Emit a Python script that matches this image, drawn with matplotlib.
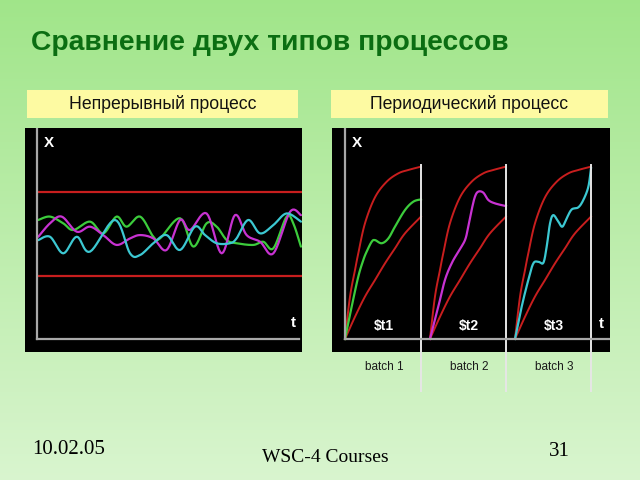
import numpy as np
import matplotlib
matplotlib.use("Agg")
import matplotlib.pyplot as plt
from matplotlib.patches import Rectangle

plt.rcParams["font.family"] = ["Liberation Sans", "DejaVu Sans"]

# === Data ===
# continuous process: time t (0..10), measured X
cont_t_green = [0.05, 0.49, 0.99, 1.37, 2.0, 2.5, 3.0, 3.38, 3.89, 4.39, 4.64, 5.40, 5.90, 6.40, 6.78, 7.16, 7.53, 8.16, 8.54, 8.92, 9.42, 9.67, 9.96]
cont_x_green = [5.67, 5.83, 5.51, 5.19, 5.59, 5.03, 5.83, 5.35, 5.83, 4.87, 4.79, 5.75, 4.40, 5.51, 5.35, 4.71, 4.56, 4.48, 4.63, 4.32, 5.83, 5.51, 4.40]
cont_t_mag = [0.05, 0.49, 0.93, 1.50, 2.0, 2.5, 3.0, 3.51, 3.89, 4.39, 4.89, 5.40, 5.77, 6.40, 6.97, 7.47, 7.91, 8.42, 8.92, 9.55, 9.96]
cont_x_mag = [4.87, 5.51, 5.83, 5.11, 5.35, 4.95, 4.48, 4.79, 4.95, 4.79, 4.24, 5.67, 5.19, 5.98, 4.08, 5.90, 4.95, 4.63, 4.08, 6.06, 5.90]
cont_t_cyan = [0.05, 0.49, 0.99, 1.50, 2.0, 2.94, 3.51, 3.89, 4.39, 4.89, 5.40, 5.96, 6.34, 6.78, 7.28, 7.53, 7.97, 8.42, 8.92, 9.42, 9.96]
cont_x_cyan = [4.71, 4.87, 4.08, 4.87, 4.16, 5.67, 4.08, 4.00, 4.56, 4.95, 4.24, 5.35, 4.95, 4.56, 4.56, 4.79, 5.67, 5.03, 5.43, 5.98, 5.59]
cont_limits = [3.0, 7.0]

# periodic process: batch-local time tau (0..1), envelope and batch trajectories
env_tau_upper = [0.0, 0.066, 0.132, 0.175, 0.263, 0.395, 0.548, 0.702, 0.833, 1.0]
env_x_upper = [0.0, 2.02, 3.29, 4.08, 5.51, 6.75, 7.49, 7.89, 8.05, 8.21]
env_tau_lower = [0.0, 0.132, 0.263, 0.395, 0.526, 0.658, 0.789, 1.0]
env_x_lower = [0.0, 1.06, 2.02, 2.81, 3.60, 4.32, 5.03, 5.83]

batch_tau = [
    [0.0, 0.088, 0.175, 0.241, 0.285, 0.351, 0.395, 0.482, 0.570, 0.658, 0.789, 0.899, 1.0],
    [0.0, 0.110, 0.197, 0.285, 0.373, 0.461, 0.504, 0.548, 0.592, 0.636, 0.702, 0.768, 0.855, 1.0],
    [0.0, 0.088, 0.175, 0.241, 0.307, 0.373, 0.417, 0.461, 0.504, 0.570, 0.623, 0.680, 0.746, 0.833, 0.899, 0.965, 1.0],
]
batch_x = [
    [0.0, 1.54, 2.97, 3.76, 4.16, 4.63, 4.71, 4.56, 4.79, 5.35, 6.14, 6.54, 6.65],
    [0.0, 1.54, 2.81, 3.60, 4.16, 4.71, 5.35, 6.14, 6.78, 7.02, 6.97, 6.62, 6.46, 6.33],
    [0.0, 1.54, 2.81, 3.60, 3.68, 3.63, 4.40, 5.51, 5.90, 5.59, 5.35, 5.75, 6.17, 6.27, 6.62, 7.25, 8.13],
]
batch_start = [0.0, 1.118, 2.237]
batch_colors = ["#3ccc3c", "#c832d2", "#3cc8d2"]
batch_tags = ["$t1", "$t2", "$t3"]
batch_names = ["batch 1", "batch 2", "batch 3"]

RED = "#c81e1e"
AXIS_GRAY = "#a8a8a8"
W, H = 640, 480


def smooth(x, y, n=10):
    """Catmull-Rom curve through the read points (only for drawing)."""
    p = np.column_stack([x, y]).astype(float)
    p = np.vstack([p[0], p, p[-1]])
    out = []
    s = np.linspace(0, 1, n, endpoint=False)[:, None]
    for i in range(1, len(p) - 2):
        p0, p1, p2, p3 = p[i - 1], p[i], p[i + 1], p[i + 2]
        seg = 0.5 * ((2 * p1) + (-p0 + p2) * s + (2 * p0 - 5 * p1 + 4 * p2 - p3) * s ** 2
                     + (-p0 + 3 * p1 - 3 * p2 + p3) * s ** 3)
        out.append(seg)
    out.append(p[-2][None, :])
    out = np.vstack(out)
    return out[:, 0], out[:, 1]


def box(px0, py0, px1, py1):
    """pixel box -> figure fraction [left, bottom, width, height]"""
    return [px0 / W, 1 - py1 / H, (px1 - px0) / W, (py1 - py0) / H]


fig = plt.figure(figsize=(6.4, 4.8), dpi=100)

# background gradient
bg = fig.add_axes([0, 0, 1, 1])
grad = np.linspace(0, 1, 256)[:, None]
top = np.array([0.63, 0.90, 0.54])
bot = np.array([0.85, 0.96, 0.81])
img = top[None, None, :] * (1 - grad[:, :, None]) + bot[None, None, :] * grad[:, :, None]
bg.imshow(img, aspect="auto", extent=[0, 1, 0, 1])
bg.set_axis_off()

fig.text(31 / W, 1 - 43 / H, "Сравнение двух типов процессов", fontsize=20.3, fontweight="bold",
         color="#0b6e12", va="center", ha="left")

# yellow header boxes
for (x0, x1, label) in [(27, 298, "Непрерывный процесс"), (331, 608, "Периодический процесс")]:
    fig.patches.append(Rectangle((x0 / W, 1 - 118 / H), (x1 - x0) / W, 28 / H,
                                 transform=fig.transFigure, facecolor="#fdfaa2", edgecolor="none"))
    fig.text((x0 + x1) / 2 / W, 1 - 104 / H, label, fontsize=12.7,
             color="#111111", ha="center", va="center")

YLIM = (-0.62, 10.05)

# --- continuous process panel ---
ax1 = fig.add_axes(box(25, 128, 302, 352))
ax1.set_facecolor("black")
ax1.set_xlim(-0.453, 10.0)
ax1.set_ylim(*YLIM)
for lim in cont_limits:
    ax1.plot([0.04, 10.0], [lim, lim], color=RED, lw=1.6)
for t, x, c in [(cont_t_green, cont_x_green, batch_colors[0]),
                (cont_t_mag, cont_x_mag, batch_colors[1]),
                (cont_t_cyan, cont_x_cyan, batch_colors[2])]:
    sx, sy = smooth(t, x)
    ax1.plot(sx, sy, color=c, lw=1.6, solid_capstyle="round")
ax1.plot([0, 0], [0, YLIM[1]], color=AXIS_GRAY, lw=1.6)
ax1.plot([0, 9.9], [0, 0], color=AXIS_GRAY, lw=1.6)
ax1.text(0.45, 9.33, "X", color="white", fontsize=11, fontweight="bold", ha="center", va="center")
ax1.text(9.66, 0.76, "t", color="white", fontsize=11, fontweight="bold", ha="center", va="center")
ax1.set_xticks([]); ax1.set_yticks([])
for s in ax1.spines.values():
    s.set_visible(False)

# --- periodic process panel ---
ax2 = fig.add_axes(box(332, 128, 610, 352))
ax2.set_facecolor("black")
ax2.set_xlim(-0.171, 3.487)
ax2.set_ylim(*YLIM)
ux, uy = smooth(env_tau_upper, env_x_upper)
lx, ly = smooth(env_tau_lower, env_x_lower)
for k, t0 in enumerate(batch_start):
    ax2.plot(ux + t0, uy, color=RED, lw=1.4)
    ax2.plot(lx + t0, ly, color=RED, lw=1.4)
    bx, by = smooth(batch_tau[k], batch_x[k])
    ax2.plot(bx + t0, by, color=batch_colors[k], lw=1.6)
    ax2.text(t0 + 0.51, 0.6, batch_tags[k], color="white", fontsize=10, fontweight="bold",
             ha="center", va="center")
    ax2.plot([t0 + 1.0, t0 + 1.0], [-2.5, 8.29], color="#e6e6e6", lw=1.4, clip_on=False)
    ax2.text(t0 + 0.52, -1.33, batch_names[k], color="#1a1a1a", fontsize=8.5,
             ha="center", va="center", clip_on=False)
ax2.plot([0, 0], [0, YLIM[1]], color=AXIS_GRAY, lw=1.6)
ax2.plot([0, 3.487], [0, 0], color=AXIS_GRAY, lw=1.6)
ax2.text(0.154, 9.32, "X", color="white", fontsize=11, fontweight="bold", ha="center", va="center")
ax2.text(3.38, 0.71, "t", color="white", fontsize=11, fontweight="bold", ha="center", va="center")
ax2.set_xticks([]); ax2.set_yticks([])
for s in ax2.spines.values():
    s.set_visible(False)

# footer
fig.text(32 / W, 1 - 450 / H, "10.02.05", family="Liberation Serif", fontsize=15, va="center", ha="left")
fig.text(325 / W, 1 - 458 / H, "WSC-4 Courses", family="Liberation Serif", fontsize=14, va="center", ha="center")
fig.text(559 / W, 1 - 452 / H, "31", family="Liberation Serif", fontsize=15, va="center", ha="center")

fig.savefig("out.png", dpi=100)
